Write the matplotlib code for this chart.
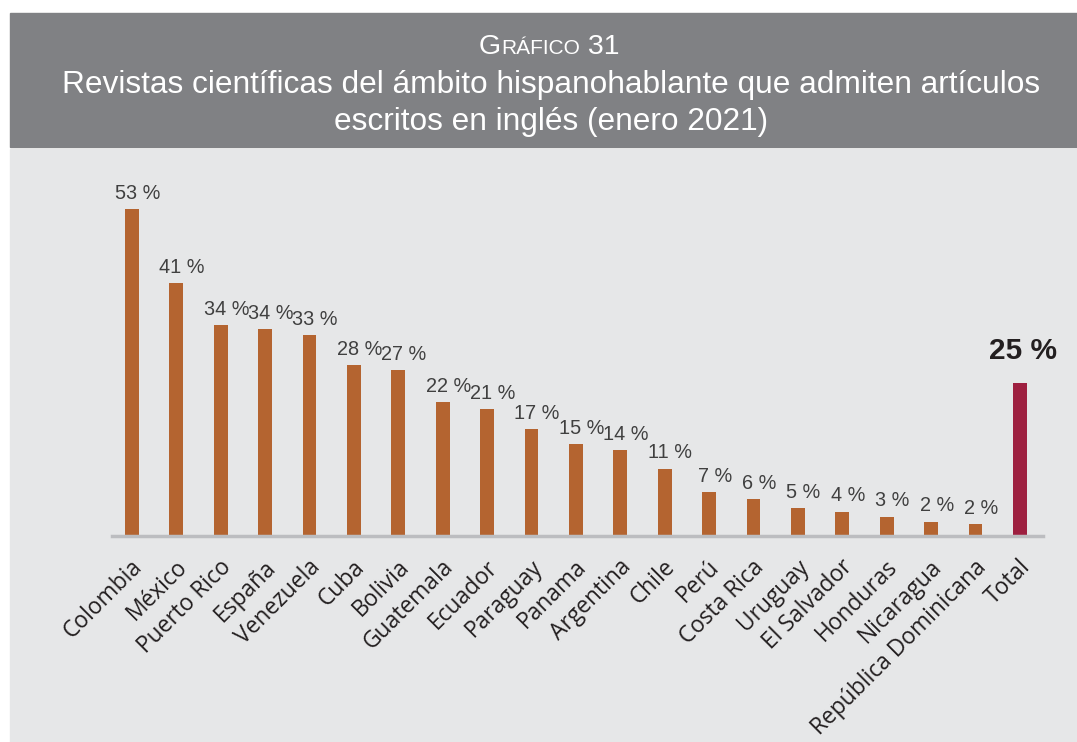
import numpy as np
import matplotlib.pyplot as plt
from matplotlib.patches import Rectangle
import matplotlib.transforms as mtransforms

# Datos (porcentaje de revistas que admiten articulos en ingles)
paises = ['Colombia', 'México', 'Puerto Rico', 'España', 'Venezuela', 'Cuba',
          'Bolivia', 'Guatemala', 'Ecuador', 'Paraguay', 'Panama', 'Argentina',
          'Chile', 'Perú', 'Costa Rica', 'Uruguay', 'El Salvador', 'Honduras',
          'Nicaragua', 'República Dominicana', 'Total']
valores = [53.0, 41.0, 34.2, 33.5, 32.6, 27.7, 26.9, 21.7, 20.6, 17.3, 14.9,
           13.9, 10.9, 7.1, 6.0, 4.5, 3.9, 3.1, 2.3, 1.9, 24.8]
etiquetas = ['53 %', '41 %', '34 %', '34 %', '33 %', '28 %', '27 %', '22 %',
             '21 %', '17 %', '15 %', '14 %', '11 %', '7 %', '6 %', '5 %', '4 %',
             '3 %', '2 %', '2 %', '25 %']

W, H = 1077, 742
fig = plt.figure(figsize=(W / 100, H / 100), dpi=100)
fig.patch.set_facecolor('white')


def fx(px):
    return px / W


def fy(py):
    # py medido desde arriba
    return 1 - py / H


# cabecera gris y panel claro
fig.patches.append(Rectangle((fx(10), fy(147)), fx(W - 10), 134 / H,
                             transform=fig.transFigure, color='#808184', zorder=-5))
fig.patches.append(Rectangle((fx(10), 0), fx(W - 10), fy(149),
                             transform=fig.transFigure, color='#e6e7e8', zorder=-5))

# titulo con versalitas a mano
titlefont = 'Liberation Sans'
renderer = fig.canvas.get_renderer()
piezas = [('G', 20.5), ('RÁFICO', 15), (' 31', 20.5)]
txts = []
for s, size in piezas:
    t = fig.text(0, fy(54), s, fontsize=size, color='white', family=titlefont,
                 va='baseline', ha='left')
    txts.append(t)
anchos = [t.get_window_extent(renderer).width for t in txts]
x0 = 549 - sum(anchos) / 2
for t, w in zip(txts, anchos):
    t.set_x(fx(x0))
    x0 += w

fig.text(fx(551), fy(85), 'Revistas científicas del ámbito hispanohablante que admiten artículos',
         fontsize=22.8, color='white', family=titlefont, ha='center', va='center')
fig.text(fx(551), fy(122), 'escritos en inglés (enero 2021)',
         fontsize=22.8, color='white', family=titlefont, ha='center', va='center')

# ejes
ax_left, ax_right = 112, 1043
ax_bottom, ax_top = 536, 160
ax = fig.add_axes([fx(ax_left), fy(ax_bottom), (ax_right - ax_left) / W,
                   (ax_bottom - ax_top) / H])
ax.set_facecolor('none')

x = np.arange(len(paises))
colores = ['#b46430'] * (len(paises) - 1) + ['#9e2040']
ax.bar(x, valores, width=0.31, color=colores, zorder=2)

ax.set_xlim(-0.45, 20.52)
ax.set_ylim(0, (ax_bottom - ax_top) / 6.165)

for s in ['top', 'right', 'left']:
    ax.spines[s].set_visible(False)
ax.spines['bottom'].set_color('#bcbdc0')
ax.spines['bottom'].set_linewidth(2.5)
ax.set_yticks([])

ax.set_xticks(x)
ax.set_xticklabels(paises, rotation=45, ha='right', va='center',
                   rotation_mode='anchor', fontsize=16.4, family='Open Sans',
                   color='#231f20')
ax.tick_params(axis='x', length=0, pad=20)
offset = mtransforms.ScaledTranslation(7 / 100, 0, fig.dpi_scale_trans)
for lab in ax.get_xticklabels():
    lab.set_transform(lab.get_transform() + offset)

for i, (v, lab) in enumerate(zip(valores, etiquetas)):
    if i == len(valores) - 1:
        ax.annotate(lab, (i, v), xytext=(2, 23), textcoords='offset points',
                    ha='center', va='center', fontsize=21.5, fontweight='bold',
                    family='Liberation Sans', color='#231f20')
    else:
        ax.annotate(lab, (i, v), xytext=(4, 11.5), textcoords='offset points',
                    ha='center', va='center', fontsize=14.3,
                    family='Liberation Sans', color='#404040')

plt.savefig('out.png', dpi=100)
